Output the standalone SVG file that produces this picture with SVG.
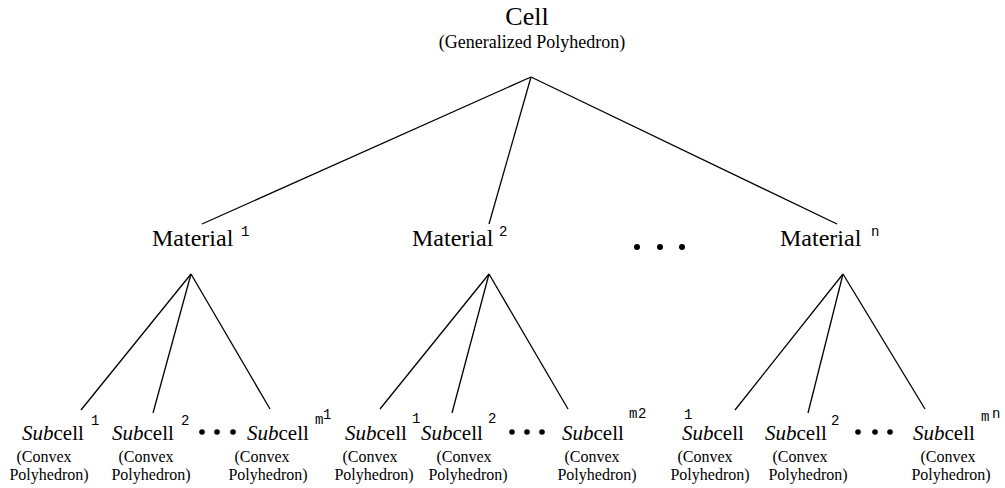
<svg xmlns="http://www.w3.org/2000/svg" width="1005" height="488" viewBox="0 0 1005 488">
<style>
.t{font-family:'Liberation Serif','Times New Roman',serif;fill:#000}
.big{font-size:26px}
.mat{font-size:24px}
.sub{font-size:21px}
.cap{font-size:18px}
.sm{font-size:16px}
.sup{font-family:'Liberation Mono','Courier New',monospace;font-size:14px;fill:#000}
.it{font-style:italic}
line{stroke:#000;stroke-width:1.3}
circle{fill:#000}
</style>
<rect width="1005" height="488" fill="#fff"/>
<g id="connectors">
<line x1="531" y1="77" x2="202" y2="224"/>
<line x1="531" y1="77" x2="489" y2="224"/>
<line x1="531" y1="77" x2="837" y2="224"/>
<line x1="191" y1="274" x2="81" y2="410"/>
<line x1="191" y1="274" x2="153" y2="413"/>
<line x1="191" y1="274" x2="270" y2="409"/>
<line x1="489" y1="274" x2="380" y2="409"/>
<line x1="489" y1="274" x2="452" y2="413"/>
<line x1="489" y1="274" x2="568" y2="409"/>
<line x1="843" y1="274" x2="735" y2="410"/>
<line x1="843" y1="274" x2="808" y2="413"/>
<line x1="843" y1="274" x2="925" y2="409"/>
</g>
<g id="cell">
<text class="t big" x="527" y="25" text-anchor="middle">Cell</text>
<text class="t cap" x="532" y="48" text-anchor="middle">(Generalized Polyhedron)</text>
</g>
<g id="material1">
<text class="t mat" x="152" y="246">Material</text>
<text class="sup" x="241" y="236">1</text>
</g>
<g id="material2">
<text class="t mat" x="412" y="246">Material</text>
<text class="sup" x="499" y="236">2</text>
</g>
<g id="materialdots">
<circle cx="637" cy="247" r="3"/>
<circle cx="660" cy="247" r="3"/>
<circle cx="682" cy="247" r="3"/>
</g>
<g id="materialn">
<text class="t mat" x="780" y="246">Material</text>
<text class="sup" x="871" y="236">n</text>
</g>
<g id="sub1-1">
<text class="t sub" x="22" y="440"><tspan class="it">Sub</tspan>cell</text>
<text class="sup" x="91" y="425">1</text>
<text class="t sm" x="44" y="462" text-anchor="middle">(Convex</text>
<text class="t sm" x="49" y="480" text-anchor="middle">Polyhedron)</text>
</g>
<g id="sub1-2">
<text class="t sub" x="112" y="440"><tspan class="it">Sub</tspan>cell</text>
<text class="sup" x="181" y="425">2</text>
<text class="t sm" x="146" y="462" text-anchor="middle">(Convex</text>
<text class="t sm" x="151" y="480" text-anchor="middle">Polyhedron)</text>
</g>
<g id="sub1-dots">
<circle cx="202" cy="432" r="2.8"/>
<circle cx="217" cy="432" r="2.8"/>
<circle cx="233" cy="432" r="2.8"/>
</g>
<g id="sub1-m">
<text class="t sub" x="247" y="440"><tspan class="it">Sub</tspan>cell</text>
<text class="sup" x="315" y="424">m</text>
<text class="sup" x="323" y="419">1</text>
<text class="t sm" x="262" y="462" text-anchor="middle">(Convex</text>
<text class="t sm" x="268" y="480" text-anchor="middle">Polyhedron)</text>
</g>
<g id="sub2-1">
<text class="t sub" x="345" y="440"><tspan class="it">Sub</tspan>cell</text>
<text class="sup" x="412" y="423">1</text>
<text class="t sm" x="370" y="462" text-anchor="middle">(Convex</text>
<text class="t sm" x="374" y="480" text-anchor="middle">Polyhedron)</text>
</g>
<g id="sub2-2">
<text class="t sub" x="421" y="440"><tspan class="it">Sub</tspan>cell</text>
<text class="sup" x="488" y="423">2</text>
<text class="t sm" x="464" y="462" text-anchor="middle">(Convex</text>
<text class="t sm" x="468" y="480" text-anchor="middle">Polyhedron)</text>
</g>
<g id="sub2-dots">
<circle cx="512" cy="432" r="2.8"/>
<circle cx="527" cy="432" r="2.8"/>
<circle cx="542" cy="432" r="2.8"/>
</g>
<g id="sub2-m">
<text class="t sub" x="562" y="440"><tspan class="it">Sub</tspan>cell</text>
<text class="sup" x="629" y="418">m</text>
<text class="sup" x="638" y="418">2</text>
<text class="t sm" x="592" y="462" text-anchor="middle">(Convex</text>
<text class="t sm" x="597" y="480" text-anchor="middle">Polyhedron)</text>
</g>
<g id="subn-1">
<text class="t sub" x="682" y="440"><tspan class="it">Sub</tspan>cell</text>
<text class="sup" x="684" y="419">1</text>
<text class="t sm" x="705" y="462" text-anchor="middle">(Convex</text>
<text class="t sm" x="710" y="480" text-anchor="middle">Polyhedron)</text>
</g>
<g id="subn-2">
<text class="t sub" x="765" y="440"><tspan class="it">Sub</tspan>cell</text>
<text class="sup" x="831" y="425">2</text>
<text class="t sm" x="800" y="462" text-anchor="middle">(Convex</text>
<text class="t sm" x="808" y="480" text-anchor="middle">Polyhedron)</text>
</g>
<g id="subn-dots">
<circle cx="858" cy="432" r="2.8"/>
<circle cx="875" cy="432" r="2.8"/>
<circle cx="890" cy="432" r="2.8"/>
</g>
<g id="subn-m">
<text class="t sub" x="913" y="440"><tspan class="it">Sub</tspan>cell</text>
<text class="sup" x="981" y="421">m</text>
<text class="sup" x="992" y="418">n</text>
<text class="t sm" x="948" y="462" text-anchor="middle">(Convex</text>
<text class="t sm" x="951" y="480" text-anchor="middle">Polyhedron)</text>
</g>
</svg>
